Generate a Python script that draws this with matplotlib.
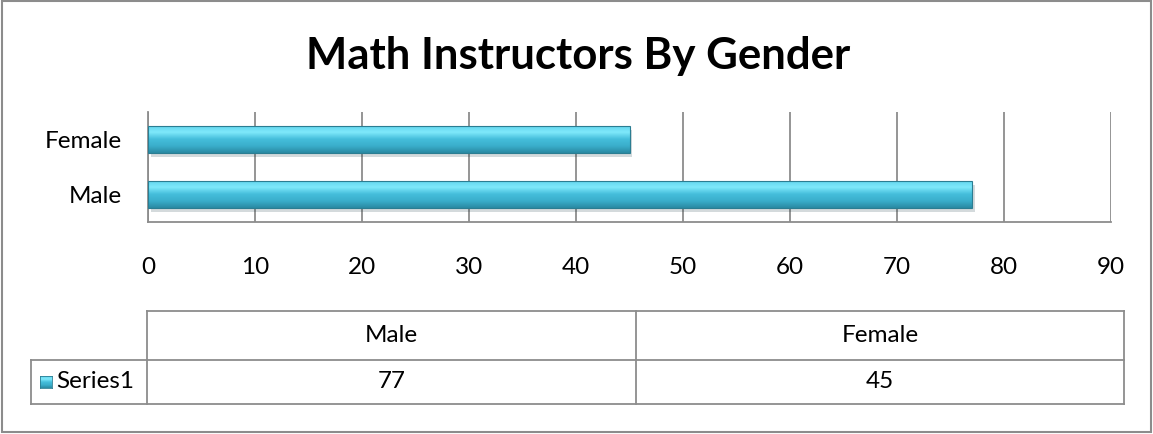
import numpy as np
import matplotlib.pyplot as plt
from matplotlib.lines import Line2D
from matplotlib.patches import Rectangle
import matplotlib.patheffects as pe
from matplotlib.colors import LinearSegmentedColormap

plt.rcParams['font.family'] = ['Lato', 'DejaVu Sans']

# data
categories = ['Male', 'Female']
values = [77, 45]
series_name = 'Series1'
title = 'Math Instructors By Gender'
x_ticks = list(range(0, 100, 10))

W, H = 1153, 434
fig = plt.figure(figsize=(W / 100, H / 100), dpi=100)


def fx(x):
    return x / W


def fy(y):
    return 1 - y / H


grey = '#8c8c8c'
fs = 17.5
bar_cmap = LinearSegmentedColormap.from_list(
    'bar', ['#2a8aa3', '#3aaecb', '#45bedb', '#7fe9fb', '#5fd3ec'])

# plot area
ax = fig.add_axes([fx(148), fy(222), fx(1111) - fx(148), fy(112) - fy(222)])
ypos = np.arange(len(categories))
bars = ax.barh(ypos, values, height=0.5, color='#3db4cf', zorder=3,
               path_effects=[pe.SimplePatchShadow(offset=(2, -3), alpha=0.18),
                             pe.Normal()])
grad = np.linspace(0, 1, 64).reshape(-1, 1)
for b in bars:
    x0, y0, w, h = b.get_x(), b.get_y(), b.get_width(), b.get_height()
    im = ax.imshow(grad, cmap=bar_cmap, aspect='auto', origin='lower',
                   extent=[x0, x0 + w, y0, y0 + h], zorder=4)
    im.set_clip_path(b)
    ax.add_patch(Rectangle((x0, y0), w, h, fill=False, ec='#2b7d92',
                           lw=0.8, zorder=5))

ax.set_xlim(0, 90)
ax.set_ylim(-0.5, 1.5)
ax.set_xticks(x_ticks)
ax.set_yticks(ypos)
ax.set_yticklabels(categories)
ax.tick_params(axis='x', length=0, pad=25, labelsize=fs)
ax.tick_params(axis='y', length=0, pad=19, labelsize=fs)
ax.grid(axis='x', color=grey, lw=1.3, zorder=1)
for s in ['top', 'right']:
    ax.spines[s].set_visible(False)
for s in ['left', 'bottom']:
    ax.spines[s].set_color(grey)
    ax.spines[s].set_linewidth(1.3)

# title
fig.text(fx(578), fy(56), title, ha='center', va='center',
         fontsize=31.5, fontweight='bold')

# data table
col_edges = [147, 636, 1124]
row_top, row_mid, row_bot = 311, 360, 404
lab_left = 31


def hline(x0, x1, y):
    fig.add_artist(Line2D([fx(x0), fx(x1)], [fy(y), fy(y)], color=grey, lw=1.3))


def vline(x, y0, y1):
    fig.add_artist(Line2D([fx(x), fx(x)], [fy(y0), fy(y1)], color=grey, lw=1.3))


hline(col_edges[0], col_edges[-1], row_top)
hline(lab_left, col_edges[-1], row_mid)
hline(lab_left, col_edges[-1], row_bot)
vline(lab_left, row_mid, row_bot)
for xe in col_edges:
    vline(xe, row_top, row_bot)

for i, (cat, val) in enumerate(zip(categories, values)):
    xc = (col_edges[i] + col_edges[i + 1]) / 2
    fig.text(fx(xc), fy((row_top + row_mid) / 2), cat, ha='center',
             va='center', fontsize=fs)
    fig.text(fx(xc), fy((row_mid + row_bot) / 2), str(val), ha='center',
             va='center', fontsize=fs)

key = fig.add_axes([fx(40), fy(388), fx(12), 12 / H])
key.imshow(grad, cmap=bar_cmap, aspect='auto', origin='lower')
key.set_xticks([])
key.set_yticks([])
for s in key.spines.values():
    s.set_color('#2b7d92')
    s.set_linewidth(0.6)
fig.text(fx(56), fy((row_mid + row_bot) / 2), series_name, ha='left',
         va='center', fontsize=fs)

# outer border
fig.add_artist(Rectangle((fx(2), fy(432)), fx(1149), fy(1) - fy(432),
                         fill=False, ec=grey, lw=1.5))

fig.savefig('out.png', dpi=100)
